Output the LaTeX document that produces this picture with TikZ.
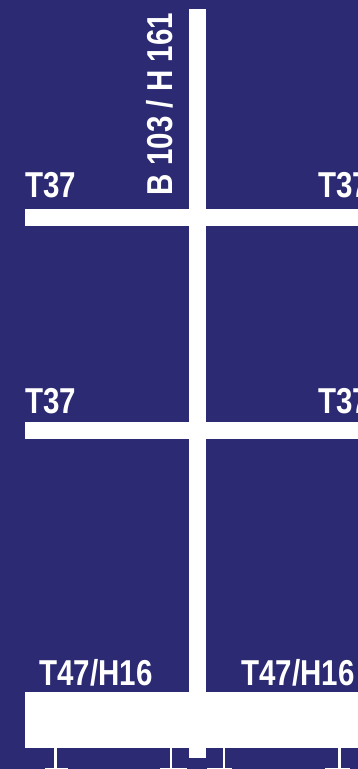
\documentclass[tikz,border=0pt]{standalone}
\usepackage{fontspec}
\setmainfont{Liberation Sans}[FakeStretch=0.82,UprightFont=*,BoldFont=* Bold]
\definecolor{bg}{RGB}{43,42,114}
\begin{document}
\begin{tikzpicture}[x=1pt,y=-1pt,
  lbl/.style={inner sep=0pt,outer sep=0pt,anchor=base west,text=white,font=\fontsize{36}{40}\selectfont\bfseries},
  bar/.style={fill=white,draw=none}]
\fill[bg] (0,0) rectangle (358,769);
\useasboundingbox (0,0) rectangle (358,769);
% vertical post
\fill[bar] (189,9) rectangle (206,758);
% cross bars
\fill[bar] (25,209) rectangle (358,226);
\fill[bar] (25,422) rectangle (358,439);
% base block
\fill[bar] (25,691.5) rectangle (358,748);
% legs below
\fill[bar] (54,748) rectangle (56.5,769);
\fill[bar] (170,748) rectangle (172.3,769);
\fill[bar] (222.7,748) rectangle (225,769);
\fill[bar] (338,748) rectangle (340.5,769);
% bottom specks
\fill[bar] (45,767.8) rectangle (68,769);
\fill[bar] (160,767.8) rectangle (187,769);
\fill[bar] (207,767.8) rectangle (232,769);
\fill[bar] (325,767.8) rectangle (350,769);
% labels
\node[lbl] (t1l) at (25,197) {T37};
\node[lbl] (t1r) at (318,197) {T37};
\node[lbl] (t2l) at (25,413) {T37};
\node[lbl] (t2r) at (318,413) {T37};
\node[lbl] (t3l) at (39.5,685.7) {T47/H16};
\node[lbl] (t3r) at (241.5,685.7) {T47/H16};
\node[lbl,rotate=90] (v) at (172.7,195) {B 103 / H 161};
\end{tikzpicture}
\end{document}
